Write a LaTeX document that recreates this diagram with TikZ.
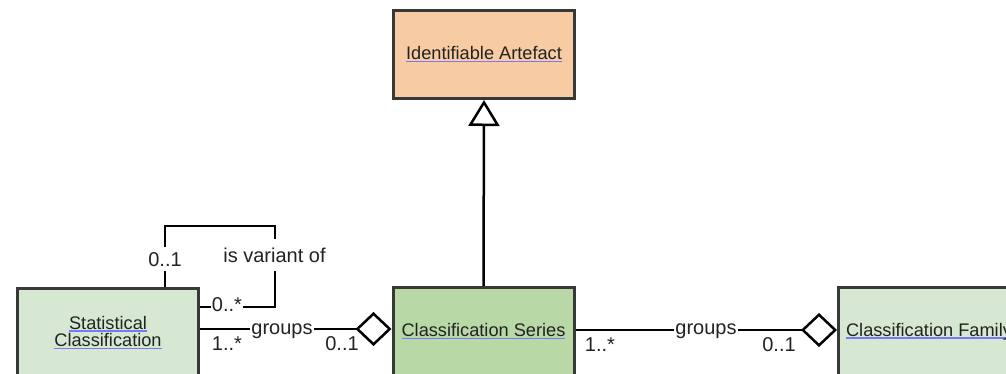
\documentclass[tikz,border=0pt]{standalone}
\usepackage{fontspec}
\setmainfont{Liberation Sans}
\usetikzlibrary{arrows.meta}
\definecolor{peach}{RGB}{248,204,162}
\definecolor{lgreen}{RGB}{214,232,210}
\definecolor{dgreen}{RGB}{184,216,166}
\definecolor{bord}{RGB}{56,56,56}
\definecolor{linkblue}{RGB}{120,120,250}
\definecolor{txt}{RGB}{34,34,34}
\newcommand\lnk[1]{\setbox0\hbox{#1}\rlap{\color{linkblue}\rule[-2.5pt]{\wd0}{1.3pt}}\box0}
\begin{document}
\begin{tikzpicture}[x=1pt,y=-1pt,
  cls/.style={draw=bord, line width=3pt, minimum width=181pt, minimum height=88pt,
    inner sep=0pt, font=\fontsize{18.2}{17.5}\selectfont, text=txt, align=center},
  conn/.style={line width=2.5pt, draw=black},
  lbl/.style={font=\fontsize{20}{22}\selectfont, text=txt, inner xsep=1pt, inner ysep=0pt, anchor=base},
  onl/.style={lbl, fill=white}]
\useasboundingbox (0,0) rectangle (1006,373);
\clip (0,0) rectangle (1006,373);
% classes
\node[cls, fill=peach]  (ia) at (484,54.5)  {\lnk{Identifiable Artefact}};
\node[cls, fill=dgreen] (cs) at (483.5,331.5) {\lnk{Classification Series}};
\node[cls, fill=lgreen] (sc) at (108,332.5) {\lnk{Statistical}\\\lnk{Classification}};
\node[cls, fill=lgreen] (cf) at (929,331.5) {\lnk{Classification Family}};
% generalisation
\draw[conn, -{Triangle[length=26pt, width=31pt, fill=white]}] (cs.north) -- (ia.south);
% self association
\coordinate (la) at (165,226);
\coordinate (lb) at (275,226);
\coordinate (lc) at (275,307);
\draw[conn] (la |- sc.north) -- (la) -- (lb) -- (lc) -- (lc -| sc.east);
\node[onl, inner ysep=5pt] (m1) at (165,266) {0..1};
\node[onl, inner ysep=9pt] (m2) at (274.5,262) {is variant of};
\node[onl] (m3) at (227,311) {0..*};
% groups left
\coordinate (g1) at (0,329);
\draw[conn, -{Diamond[length=36pt, width=34pt, fill=white]}] (sc.east |- g1) -- (cs.west |- g1);
\node[onl] (m4) at (282,334) {groups};
\node[lbl] (m5) at (227,350) {1..*};
\node[lbl] (m6) at (342,350) {0..1};
% groups right
\coordinate (g2) at (0,330);
\draw[conn, -{Diamond[length=36pt, width=34pt, fill=white]}] (cs.east |- g2) -- (cf.west |- g2);
\node[onl] (m7) at (706,334) {groups};
\node[lbl] (m8) at (600,351.5) {1..*};
\node[lbl] (m9) at (779,351.5) {0..1};
\end{tikzpicture}
\end{document}
